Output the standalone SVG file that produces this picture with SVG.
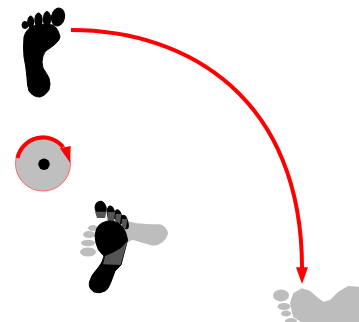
<svg xmlns="http://www.w3.org/2000/svg" width="359" height="322" viewBox="0 0 359 322">
<style>
.k{fill:#000;stroke:#000;stroke-width:1;stroke-linejoin:round}.g{fill:#bdbdbd}.d{fill:#555}.a{fill:none;stroke:#f00;stroke-width:4}.h{fill:#f00}
</style>
<rect width="359" height="322" fill="#fff"/>
<g id="foot-start">
<path class="k" d="M24 37Q26 29 33 26Q43 23 53 25Q58 28 60 37Q59 42 50 48Q44 51 43 56Q41 62 43 68Q47 74 49 78Q51 84 49 90Q45 96 40 97Q33 97 29 91Q27 85 27 78Q26 66 24 57Q23 47 24 37Z"/>
<ellipse class="k" cx="58" cy="17" rx="6.500" ry="9" transform="rotate(12 58 17)"/>
<ellipse class="k" cx="47" cy="19" rx="3.700" ry="7.500"/>
<ellipse class="k" cx="38.500" cy="20" rx="3.700" ry="7"/>
<ellipse class="k" cx="30.700" cy="22" rx="3" ry="6"/>
<ellipse class="k" cx="25" cy="25" rx="3" ry="3.500"/>
</g>
<g id="rotation-disc">
<circle cx="43" cy="163.500" r="27.500" fill="#bfbfbf" stroke="#f66" stroke-width="1"/>
<circle cx="44" cy="164.300" r="5.700" fill="#000"/>
<path class="a" d="M17.500 158A26 26 0 0 1 63 147"/>
<path class="h" d="M60 148.300L70.700 146L70 162.700Z"/>
</g>
<g id="foot-overlap">
<path class="g" d="M168.300 233.300Q166 226 160 224.300L150 224.300L136.700 223.300L126.700 221L110 226L110 245L125 245Q130 240 133 240Q143 243 153 245.700Q165 245 168.300 233.300Z"/>
<ellipse class="g" cx="88" cy="252" rx="8" ry="4.500"/>
<ellipse class="g" cx="88" cy="243" rx="7" ry="3.200"/>
<ellipse class="g" cx="89" cy="234.500" rx="6" ry="3.500"/>
<ellipse class="g" cx="93" cy="228" rx="5" ry="3"/>
<ellipse class="k" cx="100.700" cy="208.300" rx="5.500" ry="7" transform="rotate(-12 100.700 208.300)"/>
<ellipse class="k" cx="111" cy="213.500" rx="3.700" ry="7.500" transform="rotate(-8 111 213.500)"/>
<ellipse class="k" cx="118.500" cy="217" rx="3.300" ry="7.500" transform="rotate(-12 118.500 217)"/>
<ellipse class="k" cx="125" cy="222" rx="2.800" ry="7" transform="rotate(-15 125 222)"/>
<path class="d" d="M95 211.700H106.500L105 218H97Z"/>
<path class="d" d="M107.500 212H115L114 221H107.500Z"/>
<path class="d" d="M115.500 214H121.500L120 224H115.500Z"/>
<path class="d" d="M122 219H127.500L126 228H122Z"/>
<path class="k" d="M95 236Q96 226 102 223Q110 219 118 223Q126 228 127.500 240L121 265Q118 268 115 271L111.700 280Q108 290 105 291Q100 294 94 292Q88 288 89.500 282Q91 275 98 268Q103 262 104 256Q97 250 96 243Z"/>
<path class="d" d="M127.500 241L120.500 265L103 264.300L105 256L113.300 252.500L121 248Z"/>
</g>
<g id="foot-end">
<path class="g" d="M293.300 293.300L301.700 288.300L310 290.700L316.700 296.700L323.300 301.700L330 300L338.300 291.700L348.300 286L359 286.700V322H301L293 316.700L290 303Z"/>
<ellipse class="g" cx="281" cy="295.500" rx="8" ry="6"/>
<ellipse class="g" cx="284" cy="306.500" rx="6.500" ry="3.500"/>
<ellipse class="g" cx="286" cy="313.500" rx="5" ry="3"/>
<ellipse class="g" cx="291" cy="321" rx="6" ry="3"/>
</g>
<g id="connectors">
<path class="a" d="M71 30C190 30 302 100 302 268"/>
<path class="h" d="M296 267.300H308L302 284Z"/>
</g>
</svg>
